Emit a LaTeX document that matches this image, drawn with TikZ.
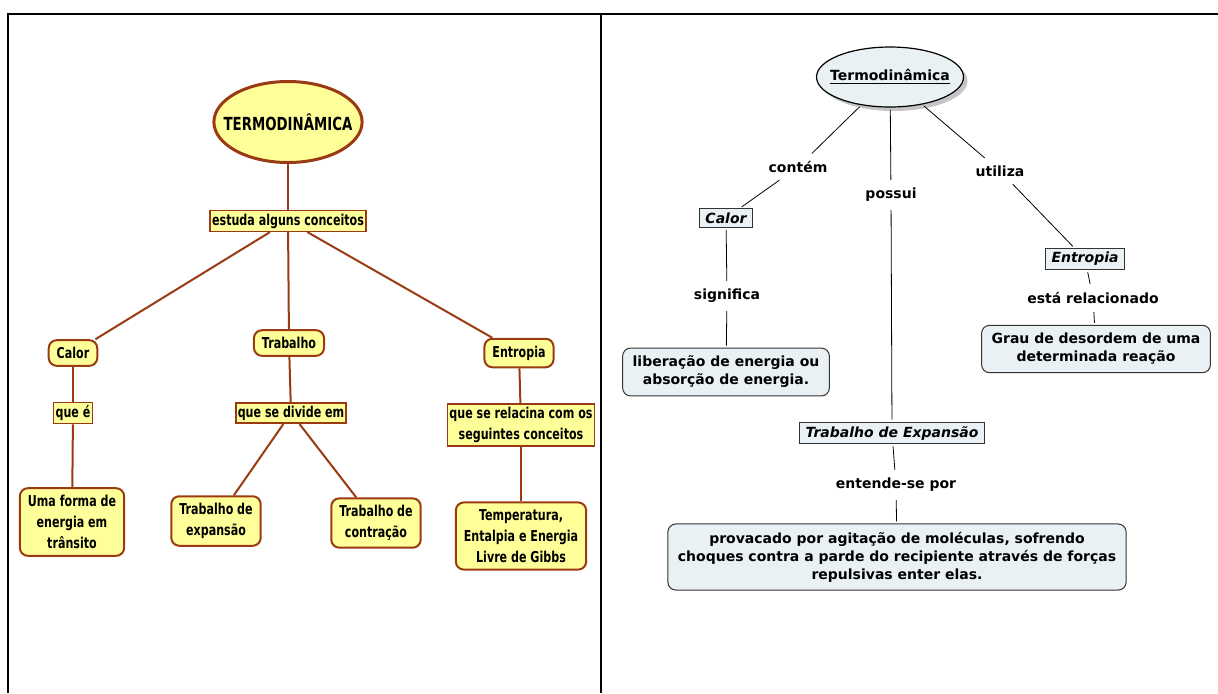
\documentclass[tikz,border=0pt]{standalone}
\usepackage{fontspec}
\setmainfont{DejaVu Sans}
\newfontfamily\narrowfont[FakeStretch=0.74]{DejaVu Sans}
\usetikzlibrary{shapes,shadows}
\definecolor{cmyellow}{HTML}{FFFF99}
\definecolor{cmbrown}{HTML}{9A3A12}
\definecolor{cmblue}{HTML}{E9F1F4}
\definecolor{cmgray}{HTML}{333333}

\begin{document}
\begin{tikzpicture}[x=0.5pt,y=-0.5pt,
    yconcept/.style={rectangle, rounded corners=4pt, draw=cmbrown, line width=1pt, fill=cmyellow, align=center,
        font=\narrowfont\bfseries\fontsize{7.5}{10.5}\selectfont, inner xsep=4pt, inner ysep=3.5pt},
    ylink/.style={rectangle, draw=cmbrown, line width=0.8pt, fill=cmyellow, align=center,
        font=\narrowfont\bfseries\fontsize{7.5}{10.5}\selectfont, inner xsep=1pt, inner ysep=1.5pt},
    yline/.style={draw=cmbrown, line width=1pt},
    bconcept/.style={rectangle, rounded corners=4pt, draw=cmgray, line width=0.5pt, fill=cmblue, align=center,
        font=\bfseries\fontsize{7}{9}\selectfont, inner xsep=5pt, inner ysep=4pt},
    bbox/.style={rectangle, draw=cmgray, line width=0.5pt, fill=cmblue,
        font=\bfseries\itshape\fontsize{7}{9}\selectfont, inner xsep=3pt, inner ysep=2pt},
    blink/.style={font=\bfseries\fontsize{7}{9}\selectfont, inner sep=3pt},
    bline/.style={draw=black, line width=0.4pt, shorten <=1pt, shorten >=1pt}]
    \useasboundingbox (0,0) rectangle (1218,693);
    % frame
    \draw[line width=0.6pt] (8,693) -- (8,14) -- (1218,14);
    \draw[line width=0.6pt] (601,14) -- (601,693);

    % left map
    \node[ellipse, draw=cmbrown, line width=1.5pt, fill=cmyellow, minimum width=72.5pt, minimum height=40.5pt,
        inner xsep=-6pt, inner ysep=0pt,
        font=\narrowfont\bfseries\fontsize{9}{11}\selectfont] (ltermo) at (288,122) {TERMODINÂMICA};
    \node[ylink] (lestuda) at (288,221) {estuda alguns conceitos};
    \node[yconcept] (lcalor) at (73,353) {Calor};
    \node[yconcept] (ltrab) at (289,343) {Trabalho};
    \node[yconcept] (lentr) at (519,353) {Entropia};
    \node[ylink] (lquee) at (73,413) {que é};
    \node[ylink] (ldivide) at (291,413) {que se divide em};
    \node[ylink] (lrelac) at (521,425) {que se relacina com os\\seguintes conceitos};
    \node[yconcept] (lforma) at (72,522) {Uma forma de\\energia em\\trânsito};
    \node[yconcept] (lexp) at (216,521) {Trabalho de\\expansão};
    \node[yconcept] (lcontr) at (376,523) {Trabalho de\\contração};
    \node[yconcept] (ltemp) at (521,536) {Temperatura,\\Entalpia e Energia\\Livre de Gibbs};

    \draw[yline] (ltermo) -- (lestuda);
    \draw[yline] (lestuda) -- (lcalor);
    \draw[yline] (lestuda) -- (ltrab);
    \draw[yline] (lestuda) -- (lentr);
    \draw[yline] (lcalor) -- (lquee);
    \draw[yline] (lquee) -- (lforma);
    \draw[yline] (ltrab) -- (ldivide);
    \draw[yline] (ldivide) -- (lexp);
    \draw[yline] (ldivide) -- (lcontr);
    \draw[yline] (lentr) -- (lrelac);
    \draw[yline] (lrelac) -- (ltemp);

    % right map
    \node[ellipse, draw=black, line width=0.6pt, fill=cmblue, minimum width=73.5pt, minimum height=30pt,
        inner xsep=-4pt, inner ysep=0pt,
        drop shadow={shadow xshift=2pt, shadow yshift=-2pt, fill=black!45},
        font=\bfseries\fontsize{7}{9}\selectfont] (rtermo) at (890,77) {\underline{Termodinâmica}};
    \node[blink] (rcontem) at (798,167) {contém};
    \node[blink] (rpossui) at (891,195) {possui};
    \node[blink] (rutiliza) at (1000,171) {utiliza};
    \node[bbox] (rcalor) at (726,218) {Calor};
    \node[blink] (rsignif) at (727,296) {significa};
    \node[bconcept] (rliber) at (726,372) {liberação de energia ou\\absorção de energia.};
    \node[bbox] (rexp) at (892,433) {Trabalho de Expansão};
    \node[blink] (rentende) at (896,485) {entende-se por};
    \node[bconcept] (rprov) at (897,557) {provacado por agitação de moléculas, sofrendo\\choques contra a parde do recipiente através de forças\\repulsivas enter elas.};
    \node[bbox] (rentr) at (1085,259) {Entropia};
    \node[blink] (rrelac) at (1093,298) {está relacionado};
    \node[bconcept] (rgrau) at (1096,349) {Grau de desordem de uma\\determinada reação};

    \draw[bline] (rtermo) -- (rcontem);
    \draw[bline] (rcontem) -- (rcalor);
    \draw[bline] (rcalor) -- (rsignif);
    \draw[bline] (rsignif) -- (rliber);
    \draw[bline] (rtermo) -- (rpossui);
    \draw[bline] (rpossui) -- (rexp);
    \draw[bline] (rexp) -- (rentende);
    \draw[bline] (rentende) -- (rprov);
    \draw[bline] (rtermo) -- (rutiliza);
    \draw[bline] (rutiliza) -- (rentr);
    \draw[bline] (rentr) -- (rrelac);
    \draw[bline] (rrelac) -- (rgrau);
\end{tikzpicture}
\end{document}
